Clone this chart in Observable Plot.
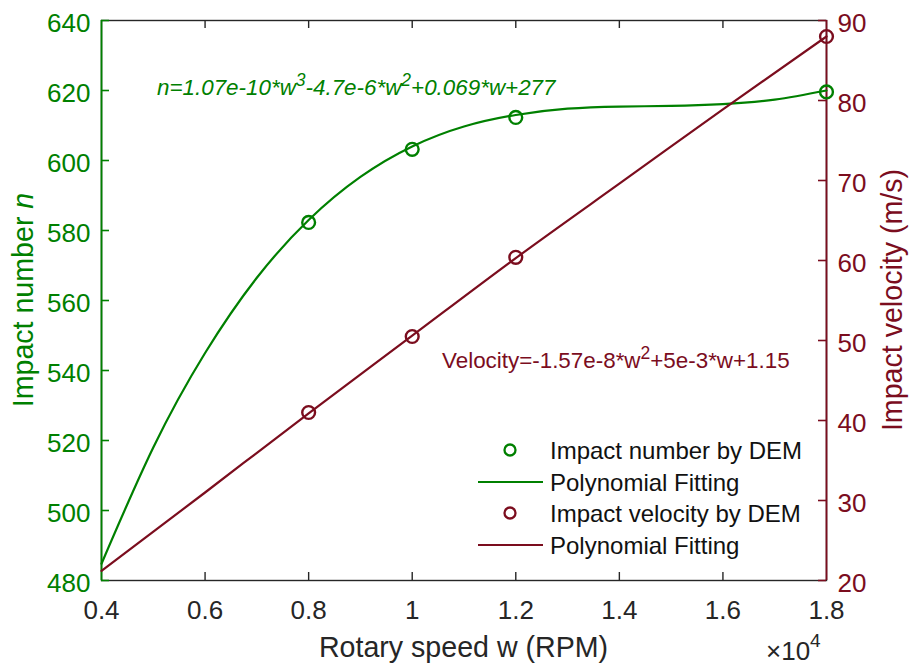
<!DOCTYPE html>
<html><head><meta charset="utf-8">
<script src="https://cdn.jsdelivr.net/npm/d3@7"></script>
<script src="https://cdn.jsdelivr.net/npm/@observablehq/plot@0.6"></script>
<style>
html,body{margin:0;padding:0;background:#fff;}
#chart{width:914px;height:666px;}
</style></head><body><div id="chart"></div>
<script>
// ---- data ----
const xTicks = [0.4, 0.6, 0.8, 1.0, 1.2, 1.4, 1.6, 1.8];
const xTickLabels = ["0.4", "0.6", "0.8", "1", "1.2", "1.4", "1.6", "1.8"];
const nTicks = [480, 500, 520, 540, 560, 580, 600, 620, 640];
const vTicks = [20, 30, 40, 50, 60, 70, 80, 90];

const demW = [0.8, 1.0, 1.2, 1.8];
const demImpactNumber = [582.3, 603.2, 612.3, 619.6];
const demImpactVelocity = [41.0, 50.5, 60.4, 88.0];

const fitNW = [0.4, 0.5, 0.6, 0.7, 0.8, 0.9, 1.0, 1.1, 1.2, 1.3, 1.4, 1.5, 1.6, 1.7, 1.8];
const fitImpactNumber = [484.8, 518, 545, 566.5, 583, 595.3, 604, 609.7, 613, 614.8, 615.4, 615.6, 616.1, 617.4, 620];
const fitVW = [0.4, 0.6, 0.8, 1.0, 1.2, 1.4, 1.6, 1.8];
const fitImpactVelocity = [21.2, 31.0, 40.9, 50.6, 60.3, 69.6, 78.9, 88.0];

const legendLabels = ["Impact number by DEM", "Polynomial Fitting", "Impact velocity by DEM", "Polynomial Fitting"];
const eqNumber = "n=1.07e-10*w^3-4.7e-6*w^2+0.069*w+277";
const eqVelocity = "Velocity=-1.57e-8*w^2+5e-3*w+1.15";
const xTitle = "Rotary speed w (RPM)";
const yLeftTitle = ["Impact number ", "n"];
const yRightTitle = "Impact velocity (m/s)";
const xExponent = ["\u00d710", "4"];

// ---- styling ----
const GREEN = "#008000", RED = "#7b0d1e", GRAY = "#262626";
const FONT = "'Liberation Sans', Arial, Helvetica, sans-serif";
const W = 914, H = 666, mL = 101, mR = 88, mT = 20, mB = 86;
const fw = W - mL - mR, fh = H - mT - mB, tickLen = 8;

const nDomain = [nTicks[0], nTicks[nTicks.length - 1]];
const vDomain = [vTicks[0], vTicks[vTicks.length - 1]];
const toN = v => nDomain[0] + (v - vDomain[0]) * (nDomain[1] - nDomain[0]) / (vDomain[1] - vDomain[0]);
const toV = n => vDomain[0] + (n - nDomain[0]) * (vDomain[1] - vDomain[0]) / (nDomain[1] - nDomain[0]);

const demN = demW.map((w, i) => ({w, n: demImpactNumber[i]}));
const demV = demW.map((w, i) => ({w, v: demImpactVelocity[i]}));
const fitN = fitNW.map((w, i) => ({w, n: fitImpactNumber[i]}));
const fitV = fitVW.map((w, i) => ({w, v: fitImpactVelocity[i]}));
const innerX = xTicks.slice(1, -1);

const svg = Plot.plot({
  width: W, height: H,
  marginLeft: mL, marginRight: mR, marginTop: mT, marginBottom: mB,
  style: {fontFamily: FONT, background: "#fff", overflow: "visible"},
  x: {domain: [xTicks[0], xTicks[xTicks.length - 1]]},
  y: {domain: nDomain},
  marks: [
    Plot.frame({stroke: GRAY, strokeWidth: 1.4}),
    Plot.tickX(innerX, {x: d => d, stroke: GRAY, strokeWidth: 1.4, insetTop: fh - tickLen}),
    Plot.tickX(innerX, {x: d => d, stroke: GRAY, strokeWidth: 1.4, insetBottom: fh - tickLen}),
    Plot.ruleX([xTicks[0]], {stroke: GREEN, strokeWidth: 1.8}),
    Plot.ruleX([xTicks[xTicks.length - 1]], {stroke: RED, strokeWidth: 1.8}),
    Plot.tickY(nTicks, {y: d => d, stroke: GREEN, strokeWidth: 1.6, insetRight: fw - tickLen}),
    Plot.tickY(vTicks, {y: d => toN(d), stroke: RED, strokeWidth: 1.6, insetLeft: fw - tickLen}),
    Plot.axisX(xTicks, {tickSize: 0, tickPadding: 20, fontSize: 26, color: GRAY, label: null,
      tickFormat: d => xTickLabels[xTicks.indexOf(d)]}),
    Plot.axisY(nTicks, {anchor: "left", tickSize: 0, tickPadding: 11, fontSize: 26, color: GREEN, label: null, dy: 3.5,
      tickFormat: d => String(d)}),
    Plot.axisY(vTicks.map(toN), {anchor: "right", tickSize: 0, tickPadding: 11, fontSize: 26, color: RED, label: null, dy: 3.5,
      tickFormat: d => String(Math.round(toV(d)))}),
    Plot.line(fitN, {x: "w", y: "n", stroke: GREEN, strokeWidth: 2.2, curve: "natural"}),
    Plot.dot(demN, {x: "w", y: "n", r: 6.4, stroke: GREEN, strokeWidth: 2.4, fill: "none"}),
    Plot.line(fitV, {x: "w", y: d => toN(d.v), stroke: RED, strokeWidth: 2.2, curve: "natural"}),
    Plot.dot(demV, {x: "w", y: d => toN(d.v), r: 6.4, stroke: RED, strokeWidth: 2.4, fill: "none"})
  ]
});

document.getElementById("chart").appendChild(svg);

// ---- annotations, titles and legend ----
const s = d3.select(svg);
const g = s.append("g").attr("font-family", FONT).attr("text-anchor", "start");

function supText(sel, str, fs) {
  const parts = str.split(/\^(\d)/);
  parts.forEach((p, i) => {
    if (p === "") return;
    const sup = i % 2 === 1;
    const t = sel.append("tspan").text(p);
    if (sup) t.attr("font-size", fs * 0.78).attr("dy", -fs * 0.38);
    else if (i > 0) t.attr("dy", fs * 0.38);
  });
}

// equations
const e1 = g.append("text").attr("x", 157).attr("y", 95).attr("font-size", 22.4).attr("font-style", "italic").attr("fill", GREEN);
supText(e1, eqNumber, 22.4);
const e2 = g.append("text").attr("x", 442).attr("y", 368).attr("font-size", 22.4).attr("fill", RED);
supText(e2, eqVelocity, 22.4);

// axis titles
g.append("text").attr("x", mL + fw / 2).attr("y", 657).attr("text-anchor", "middle")
  .attr("font-size", 28.6).attr("fill", GRAY).text(xTitle);
const lt = g.append("text").attr("transform", `translate(33,${mT + fh / 2}) rotate(-90)`)
  .attr("text-anchor", "middle").attr("font-size", 28.6).attr("fill", GREEN);
lt.append("tspan").text(yLeftTitle[0]);
lt.append("tspan").attr("font-style", "italic").text(yLeftTitle[1]);
g.append("text").attr("transform", `translate(902,${mT + fh / 2}) rotate(-90)`)
  .attr("text-anchor", "middle").attr("font-size", 28.6).attr("fill", RED).text(yRightTitle);

// x10^4
const ex = g.append("text").attr("x", 766).attr("y", 660).attr("font-size", 26).attr("fill", GRAY);
ex.append("tspan").text(xExponent[0]);
ex.append("tspan").attr("font-size", 19).attr("dy", -13).text(xExponent[1]);

// legend
const legRows = [450, 482, 513, 545];
const legKinds = [["dot", GREEN], ["line", GREEN], ["dot", RED], ["line", RED]];
const lg = g.append("g");
legendLabels.forEach((lab, i) => {
  const y = legRows[i], [kind, col] = legKinds[i];
  if (kind === "dot") lg.append("circle").attr("cx", 510).attr("cy", y).attr("r", 5.5)
    .attr("fill", "none").attr("stroke", col).attr("stroke-width", 2.3);
  else lg.append("line").attr("x1", 478).attr("x2", 543).attr("y1", y).attr("y2", y)
    .attr("stroke", col).attr("stroke-width", 2);
  lg.append("text").attr("x", 550).attr("y", y).attr("dy", "0.36em").attr("font-size", 24)
    .attr("fill", "#111").text(lab);
});
</script></body></html>
